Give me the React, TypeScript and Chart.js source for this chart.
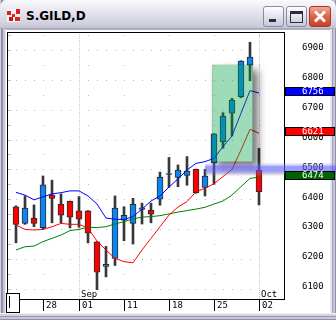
import React, { useEffect, useRef } from "react";
import { Chart, registerables } from "chart.js";

Chart.register(...registerables);

// ---- data (S.GILD daily, Aug 23 .. Oct 02) ----
const opens = [6375, 6319, 6336, 6305, 6414, 6384, 6393, 6361, 6361, 6257, 6175, 6202, 6330, 6319, 6366, 6363, 6400, 6483, 6473, 6480, 6500, 6440, 6522, 6593, 6688, 6744, 6849, 6498];
const highs = [6378, 6411, 6381, 6478, 6464, 6418, 6394, 6409, 6362, 6258, 6242, 6411, 6375, 6403, 6387, 6387, 6491, 6540, 6515, 6543, 6501, 6500, 6620, 6690, 6738, 6864, 6926, 6571];
const lows = [6254, 6316, 6308, 6299, 6321, 6321, 6304, 6306, 6254, 6094, 6140, 6178, 6261, 6250, 6317, 6321, 6380, 6440, 6442, 6447, 6420, 6411, 6450, 6571, 6612, 6740, 6797, 6381];
const closes = [6316, 6370, 6319, 6448, 6403, 6347, 6340, 6333, 6286, 6156, 6182, 6370, 6346, 6383, 6371, 6350, 6473, 6486, 6498, 6494, 6422, 6478, 6619, 6679, 6732, 6863, 6876, 6425];

const maFast = [6423, 6414, 6398, 6408, 6418, 6422, 6428, 6428, 6411, 6384, 6337, 6333, 6332, 6342, 6367, 6394, 6411, 6441, 6468, 6498, 6520, 6526, 6537, 6576, 6612, 6688, 6764, 6756];
const maMid = [6314, 6299, 6297, 6299, 6308, 6319, 6316, 6316, 6303, 6260, 6230, 6202, 6191, 6187, 6230, 6269, 6308, 6347, 6374, 6392, 6425, 6437, 6452, 6476, 6500, 6565, 6634, 6621];
const maSlow = [6230, 6241, 6243, 6258, 6269, 6280, 6295, 6299, 6306, 6305, 6308, 6317, 6325, 6334, 6340, 6342, 6345, 6351, 6357, 6362, 6367, 6373, 6384, 6394, 6414, 6442, 6470, 6474];

const priceTicks = [6100, 6200, 6300, 6400, 6500, 6600, 6700, 6800, 6900];
const halfTicks = [6150, 6250, 6350, 6450, 6550, 6650, 6750, 6850, 6950];
const dateTickIndex = [3, 7, 12, 17, 22, 27];
const dateTickLabels = ["28", "01", "11", "18", "25", "02"];
const weekStartIndex = [3, 8, 12, 17, 22, 27];
const monthIndex = [7, 27];
const monthLabels = ["Sep", "Oct"];

const zoneX = [21.8, 26.3];
const zoneY = [6526, 6850];
const bandFrom = 21;
const bandLevel = 6500;

const yMin = 6065.8;
const yMax = 6960.3;
const xMin = -1;
const xMax = 29.778;

const UP = "#0b86f0";
const DOWN = "#ff0000";
const MONO = '9px "DejaVu Sans Mono", monospace';

const idx = opens.map((_, i) => i);

const decor = {
  id: "decor",
  beforeDatasetsDraw(chart: any) {
    const { ctx, chartArea: a, scales } = chart;
    const xs = scales.x, ys = scales.y;
    ctx.save();
    // dotted grid
    ctx.fillStyle = "#bdbdbd";
    for (const lv of priceTicks) {
      const y = Math.round(ys.getPixelForValue(lv));
      for (const i of idx) {
        if (monthIndex.includes(i)) continue;
        ctx.fillRect(Math.round(xs.getPixelForValue(i)), y, 1, 1);
      }
      ctx.fillRect(a.left + 1, y, 3, 1);
    }
    for (const lv of halfTicks) {
      const y = Math.round(ys.getPixelForValue(lv));
      for (const i of weekStartIndex) {
        ctx.fillRect(Math.round(xs.getPixelForValue(i)), y, 1, 1);
      }
      ctx.fillRect(a.left + 1, y, 3, 1);
    }
    // month dotted verticals
    ctx.fillStyle = "#c8c8c8";
    for (const m of monthIndex) {
      const x = Math.round(xs.getPixelForValue(m));
      for (let y = a.top + 2; y < a.bottom; y += 2) ctx.fillRect(x, y, 1, 1);
    }
    ctx.restore();
  },
  afterDatasetsDraw(chart: any) {
    const { ctx, chartArea: a, scales } = chart;
    const xs = scales.x, ys = scales.y;
    const W = chart.width;
    ctx.save();

    // green zone with drop shadow
    const zx0 = xs.getPixelForValue(zoneX[0]);
    const zx1 = xs.getPixelForValue(zoneX[1]);
    const zy0 = ys.getPixelForValue(zoneY[1]);
    const zy1 = ys.getPixelForValue(zoneY[0]);
    ctx.save();
    ctx.beginPath();
    ctx.rect(0, 0, W, chart.height);
    ctx.rect(zx0, zy0, zx1 - zx0, zy1 - zy0);
    ctx.clip("evenodd");
    ctx.shadowColor = "rgba(0,0,0,0.55)";
    ctx.shadowBlur = 8;
    ctx.shadowOffsetX = 5;
    ctx.shadowOffsetY = 5;
    ctx.fillStyle = "#000";
    ctx.fillRect(zx0, zy0, zx1 - zx0, zy1 - zy0);
    ctx.restore();
    ctx.fillStyle = "rgba(0,160,70,0.38)";
    ctx.fillRect(zx0, zy0, zx1 - zx0, zy1 - zy0);

    // plot frame
    ctx.fillStyle = "#000";
    ctx.fillRect(a.left, a.top, a.right - a.left + 1, 1);
    ctx.fillRect(a.left, a.top, 1, a.bottom - a.top);
    ctx.fillRect(a.right, a.top, 1, a.bottom - a.top);
    ctx.fillRect(a.left, a.bottom, a.right - a.left + 1, 1);

    // price labels
    ctx.font = MONO;
    ctx.textBaseline = "middle";
    ctx.textAlign = "left";
    ctx.fillStyle = "#000";
    for (const v of priceTicks) {
      ctx.fillText(String(v), 302, ys.getPixelForValue(v) - 2);
    }

    // date strip
    dateTickIndex.forEach((d, k) => {
      const x = Math.round(xs.getPixelForValue(d));
      ctx.fillRect(x, a.bottom, 1, 12);
      ctx.fillText(dateTickLabels[k], x + 3, a.bottom + 7);
    });
    monthIndex.forEach((m, k) => {
      const x = Math.round(xs.getPixelForValue(m));
      ctx.fillStyle = "#fff";
      ctx.fillRect(x + 1, a.bottom - 9, 21, 8);
      ctx.fillStyle = "#000";
      ctx.fillText(monthLabels[k], x + 2, a.bottom - 4);
    });
    // small box bottom-left
    ctx.fillStyle = "#fff";
    ctx.fillRect(a.left - 1, a.bottom - 6, 14, 20);
    ctx.strokeStyle = "#000";
    ctx.lineWidth = 1;
    ctx.strokeRect(a.left - 0.5, a.bottom - 5.5, 13, 19);
    ctx.fillStyle = "#000";
    ctx.fillRect(a.left + 2, a.bottom - 3, 1, 12);

    // horizontal band
    const yc = ys.getPixelForValue(bandLevel);
    const bx = xs.getPixelForValue(bandFrom);
    const g = ctx.createLinearGradient(0, yc - 7, 0, yc + 7);
    g.addColorStop(0, "rgba(150,150,255,0)");
    g.addColorStop(0.18, "rgba(130,130,255,0.35)");
    g.addColorStop(0.3, "rgba(90,90,255,0.6)");
    g.addColorStop(0.58, "rgba(90,90,255,0.6)");
    g.addColorStop(0.75, "rgba(100,100,170,0.45)");
    g.addColorStop(1, "rgba(140,140,160,0)");
    ctx.fillStyle = g;
    ctx.fillRect(bx, yc - 7, W - bx, 14);

    // value tags
    const tags = [
      { v: maFast[maFast.length - 1], c: "#0000ff" },
      { v: maMid[maMid.length - 1], c: "#ff0000" },
      { v: maSlow[maSlow.length - 1], c: "#006400" },
    ];
    for (const t of tags) {
      const y = Math.round(ys.getPixelForValue(t.v) - 6);
      ctx.fillStyle = t.c;
      ctx.fillRect(a.right + 1, y, 50, 9);
      ctx.strokeStyle = "#000";
      ctx.strokeRect(a.right + 1.5, y + 0.5, 49, 8);
      ctx.fillStyle = "#fff";
      ctx.fillText(String(t.v), 302, y + 4.5);
    }
    ctx.restore();
  },
};

export default function App() {
  const ref = useRef<HTMLCanvasElement>(null);
  useEffect(() => {
    const canvas = ref.current!;
    const line = (vals: number[], color: string) => ({
      type: "line" as const,
      data: idx.map((i) => ({ x: i, y: vals[i] })),
      borderColor: color,
      borderWidth: 1,
      pointRadius: 0,
      tension: 0,
      order: 0,
    });
    const chart = new Chart(canvas, {
      type: "bar",
      data: {
        datasets: [
          line(maFast, "#0000ff"),
          line(maMid, "#ff0000"),
          line(maSlow, "#008000"),
          {
            type: "bar",
            data: idx.map((i) => ({ x: i, y: [opens[i], closes[i]] })) as any,
            backgroundColor: idx.map((i) => (closes[i] >= opens[i] ? UP : DOWN)),
            borderColor: "#2c2c2c",
            borderWidth: 1,
            borderSkipped: false,
            barThickness: 6,
            grouped: false,
            order: 1,
          } as any,
          {
            type: "bar",
            data: idx.map((i) => ({ x: i, y: [lows[i], highs[i]] })) as any,
            backgroundColor: "#383838",
            borderWidth: 0,
            barThickness: 2,
            grouped: false,
            order: 2,
          } as any,
        ],
      },
      options: {
        animation: false,
        responsive: false,
        maintainAspectRatio: false,
        devicePixelRatio: 1,
        events: [],
        layout: { padding: { left: 7, top: 32, right: 52, bottom: 21 } },
        plugins: { legend: { display: false }, tooltip: { enabled: false } },
        scales: {
          x: { type: "linear", min: xMin, max: xMax, display: false, offset: false },
          y: { type: "linear", min: yMin, max: yMax, display: false },
        },
      },
      plugins: [decor],
    });
    return () => chart.destroy();
  }, []);

  const btn: React.CSSProperties = {
    position: "absolute",
    top: 6,
    width: 21,
    height: 21,
    boxSizing: "border-box",
    borderRadius: 3,
    border: "1px solid #8a8aa6",
    background: "linear-gradient(#ffffff, #e6e6ee 45%, #c8c8d6)",
  };

  return (
    <div style={{ position: "relative", width: 336, height: 320, overflow: "hidden", background: "#c4c4d4" }}>
      <style>{"body{margin:0}"}</style>
      {/* outer frame */}
      <div style={{ position: "absolute", inset: 0, background: "linear-gradient(to right, #d0d0de 0 1px, #9090aa 1px 3px, #c6c6d6 3px 5px, #e6e6ee 5px 6px, transparent 6px)" }} />
      <div style={{ position: "absolute", right: 0, top: 0, bottom: 0, width: 6, background: "linear-gradient(to left, #9090aa 0 1px, #c6c6d6 1px 3px, #a0a0b8 3px 4px, #e6e6ee 4px 6px)" }} />
      <div style={{ position: "absolute", left: 0, right: 0, bottom: 0, height: 7, background: "linear-gradient(to top, #9090aa 0 1px, #c6c6d6 1px 3px, #9898b0 3px 4px, #d4d4e0 4px 6px, #f2f2f6 6px 7px)" }} />
      {/* title bar */}
      <div style={{ position: "absolute", left: 0, top: 0, width: 336, height: 29, borderRadius: "7px 7px 0 0", background: "linear-gradient(#fafafc, #e8e8f0 35%, #d6d6e2 75%, #c4c4d4)", borderBottom: "1px solid #a8a8be", boxSizing: "border-box" }} />
      {/* icon */}
      <div style={{ position: "absolute", left: 7, top: 9, width: 13, height: 13, background: "#f4f4f4" }}>
        <div style={{ position: "absolute", left: 0, top: 2, width: 4, height: 4, background: "#e02020" }} />
        <div style={{ position: "absolute", left: 5, top: 5, width: 3, height: 3, background: "#e02020" }} />
        <div style={{ position: "absolute", left: 9, top: 0, width: 4, height: 5, background: "#e02020" }} />
        <div style={{ position: "absolute", left: 2, top: 8, width: 4, height: 4, background: "#c81818" }} />
        <div style={{ position: "absolute", left: 8, top: 8, width: 5, height: 4, background: "#e02020" }} />
      </div>
      <div style={{ position: "absolute", left: 26, top: 8, fontFamily: '"DejaVu Sans", sans-serif', fontWeight: "bold", fontSize: 12, lineHeight: "16px", color: "#000" }}>S.GILD,D</div>
      {/* buttons */}
      <div style={{ ...btn, left: 263 }}>
        <div style={{ position: "absolute", left: 5, top: 12, width: 7, height: 3, background: "#2c2c3c" }} />
      </div>
      <div style={{ ...btn, left: 286 }}>
        <div style={{ position: "absolute", left: 3, top: 4, width: 13, height: 12, boxSizing: "border-box", border: "1px solid #2c2c3c", borderTopWidth: 3 }} />
      </div>
      <div style={{ ...btn, left: 309, width: 22, border: "1px solid #a03828", background: "linear-gradient(#f4a898, #e06848 45%, #c84028)" }}>
        <div style={{ position: "absolute", left: 3, top: 8, width: 14, height: 3, background: "#fff", transform: "rotate(45deg)" }} />
        <div style={{ position: "absolute", left: 3, top: 8, width: 14, height: 3, background: "#fff", transform: "rotate(-45deg)" }} />
      </div>
      {/* content */}
      <div style={{ position: "absolute", left: 6, top: 29, width: 324, height: 284, background: "#fff", borderTop: "1px solid #b0b0c4", boxSizing: "border-box" }} />
      <canvas ref={ref} width={336} height={320} style={{ position: "absolute", left: 0, top: 0, width: 336, height: 320 }} />
    </div>
  );
}
